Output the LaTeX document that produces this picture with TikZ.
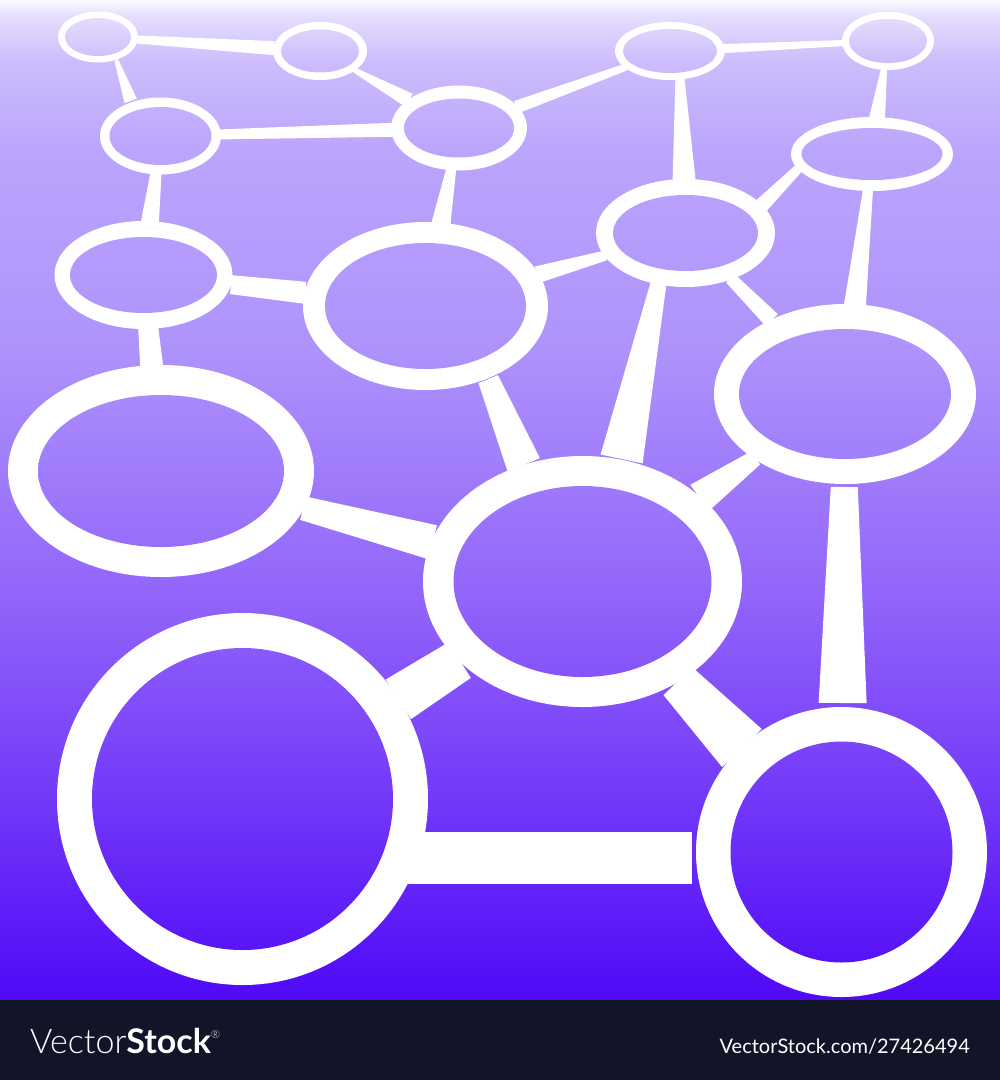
\documentclass[tikz,border=0pt]{standalone}
\usepackage{fontspec}
\setmainfont{Lato}
\newfontfamily\logolight{Lato Light}
\usetikzlibrary{calc}
\definecolor{g0}{HTML}{FBFAFF}
\definecolor{g1}{HTML}{E6DEFD}
\definecolor{g2}{HTML}{CDBDFC}
\definecolor{g3}{HTML}{BBA5FC}
\definecolor{g4}{HTML}{AE92FB}
\definecolor{g5}{HTML}{9164FA}
\definecolor{g6}{HTML}{7238F9}
\definecolor{g7}{HTML}{4F09F7}
\definecolor{barcol}{HTML}{121427}
\newcommand\bgfill{%
  \shade[top color=g0,bottom color=g1] (0,0) rectangle (1000,15.5);
  \shade[top color=g1,bottom color=g2] (0,15) rectangle (1000,60.5);
  \shade[top color=g2,bottom color=g3] (0,60) rectangle (1000,150.5);
  \shade[top color=g3,bottom color=g4] (0,150) rectangle (1000,350.5);
  \shade[top color=g4,bottom color=g5] (0,350) rectangle (1000,600.5);
  \shade[top color=g5,bottom color=g6] (0,600) rectangle (1000,800.5);
  \shade[top color=g6,bottom color=g7] (0,800) rectangle (1000,1000.5);}
% connector: A, B, distance from A, distance from B, half width at A end, half width at B end
\newcommand\conn[6]{%
  \path ($(#1)!#3!(#2)$) coordinate (cp) ($(#2)!#4!(#1)$) coordinate (cq);
  \fill[link] ($(cp)!#5!90:(cq)$) -- ($(cp)!#5!-90:(cq)$) -- ($(cq)!#6!90:(cp)$) -- ($(cq)!#6!-90:(cp)$) -- cycle;}
\tikzset{link/.style={fill=white}, ringfill/.style={fill=white}}
\begin{document}
\begin{tikzpicture}[x=1pt,y=-1pt]
\useasboundingbox (0,0) rectangle (1000,1080);
\bgfill
% centres
\coordinate (e1) at (98,37);
\coordinate (e2) at (320,51);
\coordinate (e3) at (670,51);
\coordinate (e4) at (888,41);
\coordinate (e5) at (160.5,136);
\coordinate (e6) at (459,128);
\coordinate (e7) at (872,154);
\coordinate (e8) at (685.5,233);
\coordinate (e9) at (143.5,275);
\coordinate (e10) at (425.5,306);
\coordinate (e11) at (845,394);
\coordinate (e12) at (161,471);
\coordinate (e13) at (582.5,581.5);
\coordinate (c14) at (242.5,799);
\coordinate (c15) at (841.5,852);
% connector ends on rings where the link is off-centre
\coordinate (p15a) at (117,62);   \coordinate (p15b) at (130,99);
\coordinate (p38a) at (680,80);   \coordinate (p38b) at (684,178);
\coordinate (p78a) at (797,170);  \coordinate (p78b) at (763,204);
\coordinate (pAa) at (489,381);   \coordinate (pAb) at (523,463);
\coordinate (pBa) at (658,286);   \coordinate (pBb) at (622,457);
% connectors
\conn{e1}{e2}{39pt}{46pt}{4pt}{7pt}
\conn{p15a}{p15b}{-2pt}{-2pt}{2pt}{6.5pt}
\conn{e2}{e6}{39pt}{57pt}{2.5pt}{7.5pt}
\conn{e5}{e6}{59pt}{67pt}{5pt}{7pt}
\conn{e3}{e6}{47pt}{61pt}{3.5pt}{6.5pt}
\conn{e3}{e4}{54pt}{45pt}{4.5pt}{3pt}
\conn{p38a}{p38b}{-2pt}{-2pt}{4.5pt}{11.5pt}
\conn{e4}{e7}{28pt}{36pt}{3pt}{8pt}
\conn{p78a}{p78b}{-2pt}{-2pt}{4.5pt}{7.5pt}
\conn{e5}{e9}{37pt}{53pt}{5.5pt}{9pt}
\conn{e6}{e10}{42pt}{84pt}{5pt}{9.5pt}
\conn{e9}{e10}{88pt}{121pt}{9.5pt}{11pt}
\conn{e8}{e10}{83pt}{116pt}{5pt}{8.5pt}
\conn{e7}{e11}{36pt}{89pt}{5pt}{11pt}
\conn{e8}{e11}{64pt}{104pt}{6pt}{8.5pt}
\conn{e9}{e12}{53pt}{105pt}{10pt}{11.5pt}
\conn{pAa}{pAb}{-2pt}{-2pt}{10.5pt}{17.5pt}
\conn{pBa}{pBb}{-2pt}{-2pt}{8pt}{21.5pt}
\conn{e11}{e13}{110pt}{144pt}{8pt}{16pt}
\conn{e11}{c15}{93pt}{149pt}{13.5pt}{24pt}
\conn{e12}{e13}{147pt}{155pt}{12pt}{17.5pt}
\conn{e13}{c14}{146pt}{185pt}{21pt}{23.5pt}
\conn{e13}{c15}{138pt}{144pt}{20pt}{27.5pt}
\fill[link] ($(c14)+(50,33)$) rectangle ($(c15)+(-150,32)$);
% rings
\fill[ringfill]
  (e1) ellipse [x radius=40pt, y radius=25.5pt]
  (e2) ellipse [x radius=47pt, y radius=29pt]
  (e3) ellipse [x radius=55pt, y radius=29pt]
  (e4) ellipse [x radius=46pt, y radius=29pt]
  (e5) ellipse [x radius=60.5pt, y radius=38.5pt]
  (e6) ellipse [x radius=68pt, y radius=42.5pt]
  (e7) ellipse [x radius=81pt, y radius=37pt]
  (e8) ellipse [x radius=89.5pt, y radius=54pt]
  (e9) ellipse [x radius=89pt, y radius=54pt]
  (e10) ellipse [x radius=122.5pt, y radius=84pt]
  (e11) ellipse [x radius=131pt, y radius=90pt]
  (e12) ellipse [x radius=153pt, y radius=106pt]
  (e13) ellipse [x radius=159.5pt, y radius=125.5pt]
  (c14) ellipse [x radius=185.5pt, y radius=186pt]
  (c15) ellipse [x radius=145.5pt, y radius=145pt];
\begin{scope}
\clip
  (e1) ellipse [x radius=33pt, y radius=19pt]
  (e2) ellipse [x radius=39pt, y radius=21.5pt]
  (e3) ellipse [x radius=47pt, y radius=22pt]
  (e4) ellipse [x radius=39pt, y radius=22pt]
  (e5) ellipse [x radius=51pt, y radius=29pt]
  (e6) ellipse [x radius=55pt, y radius=29.5pt]
  (e7) ellipse [x radius=70.5pt, y radius=26pt]
  (e8) ellipse [x radius=72.5pt, y radius=38pt]
  (e9) ellipse [x radius=73.5pt, y radius=38pt]
  (e10) ellipse [x radius=100.5pt, y radius=63pt]
  (e11) ellipse [x radius=106pt, y radius=65pt]
  (e12) ellipse [x radius=123pt, y radius=76pt]
  (e13) ellipse [x radius=129pt, y radius=95.5pt]
  (c14) ellipse [x radius=150.5pt, y radius=151pt]
  (c15) ellipse [x radius=111pt, y radius=110.5pt];
\bgfill
\end{scope}
% footer
\fill[barcol] (0,1000) rectangle (1000,1080);
\node[anchor=base west, text=white, inner sep=0pt, font=\fontsize{34}{34}\selectfont] (logo) at (30,1053)
  {{\logolight Vector}\textbf{Stock}\raisebox{15pt}{\fontsize{11}{11}\selectfont\logolight ®}};
\node[anchor=base east, text=white, inner sep=0pt, font=\fontsize{20}{20}\selectfont] (url) at (970,1053)
  {VectorStock.com/27426494};
\end{tikzpicture}
\end{document}
